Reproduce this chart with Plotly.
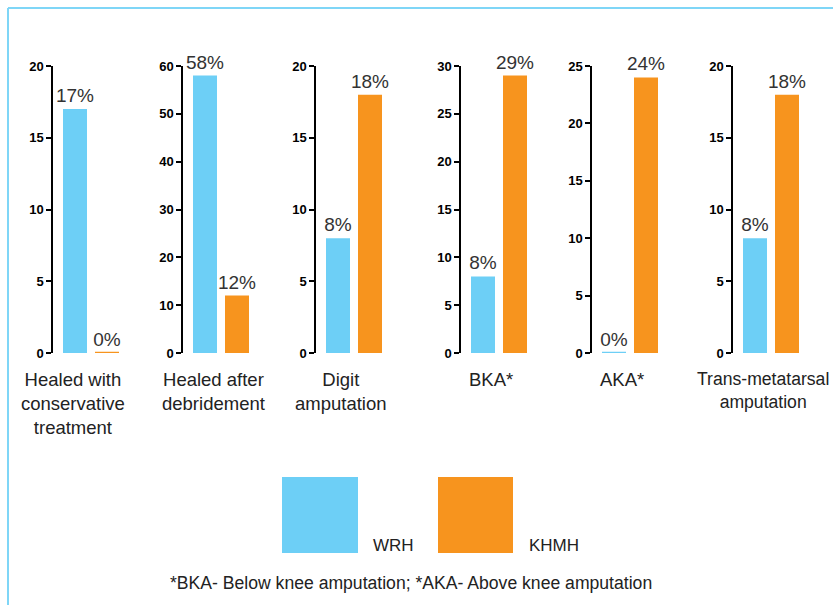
import plotly.graph_objects as go

categories = ["Healed with<br>conservative<br>treatment", "Healed after<br>debridement",
              "Digit<br>amputation", "BKA*", "AKA*", "Trans-metatarsal<br>amputation"]
series_names = ["WRH", "KHMH"]
wrh = [17, 58, 8, 8, 0, 8]
khmh = [0, 12, 18, 29, 24, 18]
y_max = [20, 60, 20, 30, 25, 20]
y_dtick = [5, 10, 5, 5, 5, 5]
footnote = "*BKA- Below knee amputation; *AKA- Above knee amputation"

colors = ["#6DCFF6", "#F7941E"]
W, H = 833, 605
axis_px = [53, 183, 316, 461, 592, 733]
label_px = [73, 213, 341, 491, 622, 763]
label_size = [18.5, 18.5, 18.5, 18.5, 18.5, 17.6]
FONT = "Liberation Sans, Arial, sans-serif"

fig = go.Figure()
layout = dict(width=W, height=H, autosize=False,
              margin=dict(l=0, r=0, t=0, b=0, pad=0, autoexpand=False),
              paper_bgcolor="white", plot_bgcolor="white", showlegend=False)
shapes = []
annotations = []
ydom = [(H - 353) / H, (H - 66) / H]
bw = 0.75
for i in range(6):
    n = "" if i == 0 else str(i + 1)
    xa, ya = "x" + n, "y" + n
    vals = [wrh[i], khmh[i]]
    fig.add_trace(go.Bar(
        x=[0, 1], y=vals, xaxis=xa, yaxis=ya, width=bw,
        marker=dict(color=colors, line=dict(width=0)),
        text=[f"{v}%" for v in vals], texttemplate="%{text}",
        textposition="outside", cliponaxis=False, constraintext="none",
        textfont=dict(family=FONT, size=19, color="#333333"),
        hoverinfo="skip"))
    for j, v in enumerate(vals):
        if v == 0:
            shapes.append(dict(type="line", xref=xa, yref=ya, x0=j - bw / 2, x1=j + bw / 2,
                               y0=v, y1=v, line=dict(color=colors[j], width=2.5)))
    x0 = axis_px[i] / W
    x1 = (axis_px[i] + 70) / W
    layout["xaxis" + n] = dict(domain=[x0, x1], range=[-0.6875, 1.5], anchor=ya,
                               showticklabels=False, showline=False, showgrid=False,
                               zeroline=False, fixedrange=True)
    layout["yaxis" + n] = dict(domain=ydom, range=[0, y_max[i]], dtick=y_dtick[i],
                               anchor=xa, showline=True, linecolor="black", linewidth=1.5,
                               ticks="outside", ticklen=5, tickcolor="black", tickwidth=1.5,
                               showgrid=False, zeroline=False, automargin=False,
                               tickfont=dict(family="Liberation Sans", size=13, color="black",
                                             weight="bold"))
    annotations.append(dict(xref="paper", yref="paper", x=label_px[i] / W, y=(H - 367) / H,
                            xanchor="center", yanchor="top", text=categories[i], showarrow=False,
                            font=dict(family=FONT, size=label_size[i], color="#222222")))

# legend squares and labels
leg = [(282, 358, 371), (438, 513, 527)]
for k, (a, b, t) in enumerate(leg):
    shapes.append(dict(type="rect", xref="paper", yref="paper", x0=a / W, x1=b / W,
                       y0=(H - 553) / H, y1=(H - 477) / H, fillcolor=colors[k], line=dict(width=0)))
    annotations.append(dict(xref="paper", yref="paper", x=t / W, y=(H - 545) / H,
                            xanchor="left", yanchor="middle", text=series_names[k], showarrow=False,
                            font=dict(family=FONT, size=17, color="#222222")))
annotations.append(dict(xref="paper", yref="paper", x=411 / W, y=(H - 583) / H,
                        xanchor="center", yanchor="middle", text=footnote, showarrow=False,
                        font=dict(family=FONT, size=17.6, color="#222222")))
# frame
shapes.append(dict(type="line", xref="paper", yref="paper", x0=8 / W, x1=1, y0=(H - 8) / H,
                   y1=(H - 8) / H, line=dict(color="#7FD6F7", width=2)))
shapes.append(dict(type="line", xref="paper", yref="paper", x0=8 / W, x1=8 / W, y0=0,
                   y1=(H - 8) / H, line=dict(color="#7FD6F7", width=2)))

layout["shapes"] = shapes
layout["annotations"] = annotations
fig.update_layout(**layout)
fig.write_html("out.html")
